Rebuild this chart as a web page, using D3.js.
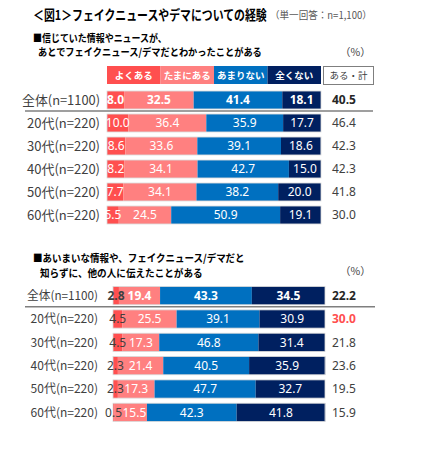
<!DOCTYPE html>
<html><head><meta charset="utf-8">
<script src="https://cdn.jsdelivr.net/npm/d3@7"></script>
<style>body{margin:0;background:#fff}svg{display:block;font-family:"Noto Sans CJK JP","Noto Sans",sans-serif}</style>
</head><body>
<script>
const categories = ['全体(n=1100)','20代(n=220)','30代(n=220)','40代(n=220)','50代(n=220)','60代(n=220)'];
const seriesNames = ['よくある','たまにある','あまりない','全くない'];
const seriesColors = ['#FF4F4F','#FF8080','#0070C0','#002060'];
// chart 1
const yoku1 = [8.0,10.0,8.6,8.2,7.7,5.5];
const tama1 = [32.5,36.4,33.6,34.1,34.1,24.5];
const amari1 = [41.4,35.9,39.1,42.7,38.2,50.9];
const mattaku1 = [18.1,17.7,18.6,15.0,20.0,19.1];
const total1 = [40.5,46.4,42.3,42.3,41.8,30.0];
// chart 2
const yoku2 = [2.8,4.5,4.5,2.3,2.3,0.5];
const tama2 = [19.4,25.5,17.3,21.4,17.3,15.5];
const amari2 = [43.3,39.1,46.8,40.5,47.7,42.3];
const mattaku2 = [34.5,30.9,31.4,35.9,32.7,41.8];
const total2 = [22.2,30.0,21.8,23.6,19.5,15.9];

const W=432,H=450;
const svg=d3.select('body').append('svg').attr('width',W).attr('height',H);
const txt='#404040';

function fitText(parent,x,y,str,width,opts){
  const anchor=opts.anchor||'start';
  const g=parent.append('g');
  const t=g.append('text').attr('x',0).attr('y',0).attr('font-size',opts.fs).attr('fill',opts.fill||'#000')
    .attr('font-weight',opts.fw||'normal').attr('text-anchor',anchor).text(str);
  if(opts.dy) t.attr('dy',opts.dy);
  const nat=t.node().getComputedTextLength();
  const s=Math.min(1,width/nat);
  g.attr('transform',`translate(${x},${y}) scale(${s},1)`);
  return t;
}

// title
fitText(svg,33,20,'＜図1＞フェイクニュースやデマについての経験',234,{fs:13.5,fw:'bold'});
fitText(svg,270,19,'（単一回答：n=1,100）',102,{fs:10,fill:'#595959'});

function header(y1,gap,l1,w1,l2,x2,w2,pctY){
  fitText(svg,33,y1,l1,w1,{fs:10.5,fw:'bold'});
  fitText(svg,x2,y1+gap,l2,w2,{fs:10.5,fw:'bold'});
  svg.append('text').attr('x',340).attr('y',pctY).attr('font-size',10.5).attr('fill',txt).text('（%）');
}
header(42,14,'■信じていた情報やニュースが、',134,'あとでフェイクニュース/デマだとわかったことがある',38,224,56);
header(262,15,'■あいまいな情報や、フェイクニュース/デマだと',212,'知らずに、他の人に伝えたことがある',40,163,275);

// legend (chart 1)
const lx=d3.scaleBand().domain(seriesNames).range([107,321]);
const lg=svg.append('g');
lg.selectAll('rect').data(seriesNames).join('rect')
  .attr('x',d=>lx(d)).attr('y',66).attr('width',lx.bandwidth()).attr('height',18)
  .attr('fill',(d,i)=>seriesColors[i]);
lg.selectAll('text').data(seriesNames).join('text')
  .attr('x',d=>lx(d)+lx.bandwidth()/2).attr('y',79).attr('text-anchor','middle')
  .attr('font-size',9.5).attr('font-weight','bold').attr('fill','#fff').text(d=>d);
lg.append('rect').attr('x',323.5).attr('y',66.5).attr('width',50).attr('height',18).attr('fill','#fff').attr('stroke','#7f7f7f');
lg.append('text').attr('x',348.5).attr('y',79).attr('text-anchor','middle').attr('font-size',9.5).attr('fill',txt).text('ある・計');

function chart(o){
  const x=d3.scaleLinear().domain([0,100]).range([o.x0,o.x1]);
  const y=d3.scaleBand().domain(categories).range([o.y0,o.y1]).paddingInner(0.22).paddingOuter(0.11);
  const rows=categories.map((c,i)=>({c,i,vals:[o.s[0][i],o.s[1][i],o.s[2][i],o.s[3][i]],tot:o.tot[i]}));
  const g=svg.append('g');
  rows.forEach(r=>{
    let acc=0;
    const bold=r.i===0;
    r.vals.forEach((v,k)=>{
      const xs=x(acc), xe=x(acc+v);
      g.append('rect').attr('x',xs).attr('y',y(r.c)).attr('width',xe-xs).attr('height',y.bandwidth()).attr('fill',seriesColors[k]);
      acc+=v;
    });
    g.append('rect').attr('x',x(0)).attr('y',y(r.c)).attr('width',x(100)-x(0)).attr('height',y.bandwidth())
      .attr('fill','none').attr('stroke','#d9d9d9').attr('stroke-width',0.8);
    acc=0;
    let prevRight=-Infinity;
    r.vals.forEach((v,k)=>{
      let cx=(x(acc)+x(acc+v))/2; acc+=v;
      let col='#fff';
      if(k===0&&o.darkFirst){ col=txt; }
      const t=g.append('text').attr('x',cx).attr('y',y(r.c)+y.bandwidth()/2).attr('dy','0.36em')
        .attr('text-anchor','middle').attr('font-size',o.vfs).attr('font-weight',bold?'bold':'normal')
        .attr('fill',col).attr('font-family','"Noto Sans",sans-serif').text(v.toFixed(1));
      const w=t.node().getComputedTextLength();
      if(cx-w/2<prevRight){ cx=prevRight+w/2+0.5; t.attr('x',cx); }
      prevRight=cx+w/2;
    });
    fitText(g,o.lx,y(r.c)+y.bandwidth()/2,r.c,r.i===0?o.lw0:o.lw,{fs:o.cfs,fill:txt,anchor:'end',dy:'0.36em'});
    const red=o.redIdx===r.i;
    g.append('text').attr('x',332).attr('y',y(r.c)+y.bandwidth()/2).attr('dy','0.36em')
      .attr('font-size',12).attr('font-weight',(bold||red)?'bold':'normal').attr('fill',red?'#FF4F4F':(bold?'#262626':txt))
      .attr('font-family','"Noto Sans",sans-serif').text(r.tot.toFixed(1));
  });
  const ly=y(categories[0])+y.bandwidth()+2;
  g.append('line').attr('x1',25).attr('x2',o.lineEnd).attr('y1',ly).attr('y2',ly).attr('stroke','#7f7f7f').attr('stroke-width',1.5);
}
chart({x0:107,x1:321,y0:88.5,y1:226.5,s:[yoku1,tama1,amari1,mattaku1],tot:total1,lx:100,cfs:13,lw0:78,lw:77,vfs:12,darkFirst:false,redIdx:-1,lineEnd:373});
chart({x0:113,x1:325,y0:284,y1:424,s:[yoku2,tama2,amari2,mattaku2],tot:total2,lx:98,cfs:12,lw0:71,lw:68,vfs:12,darkFirst:true,redIdx:1,lineEnd:375});
</script>
</body></html>
